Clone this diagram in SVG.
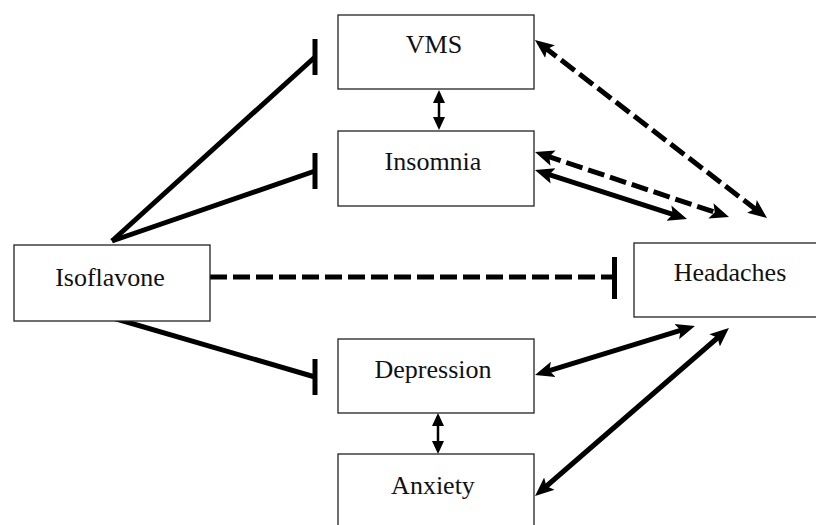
<svg xmlns="http://www.w3.org/2000/svg" width="816" height="525" viewBox="0 0 816 525">
<style>
.box{fill:#fff;stroke:#222;stroke-width:1.3}
.lbl{font-family:"Liberation Serif","Times New Roman",serif;font-size:26px;fill:#111;text-anchor:middle}
.solid{stroke:#000;stroke-width:5;fill:none}
.dash{stroke:#000;stroke-width:5;fill:none;stroke-dasharray:17 6}
.thin{stroke:#000;stroke-width:2.5;fill:none}
.bar{stroke:#000;stroke-width:5}
</style>
<defs>
<marker id="big" markerUnits="userSpaceOnUse" markerWidth="22" markerHeight="18" viewBox="0 -9 22 18" refX="9" refY="0" orient="auto-start-reverse">
<path d="M0,-8 L19,0 L0,8 L4,0 Z" fill="#000"/>
</marker>
<marker id="small" markerUnits="userSpaceOnUse" markerWidth="14" markerHeight="14" viewBox="0 -7 14 14" refX="6" refY="0" orient="auto-start-reverse">
<path d="M0,-6 L13,0 L0,6 Z" fill="#000"/>
</marker>
</defs>
<g id="connectors">
<line class="solid" x1="112" y1="241" x2="315" y2="57"/>
<line class="bar" x1="315" y1="39" x2="315" y2="75"/>
<line class="solid" x1="112" y1="241" x2="315" y2="171"/>
<line class="bar" x1="315" y1="153" x2="315" y2="189"/>
<line class="solid" x1="113" y1="318" x2="315" y2="377"/>
<line class="bar" x1="315" y1="359" x2="315" y2="395"/>
<line class="dash" x1="210" y1="277" x2="612" y2="277"/>
<line class="bar" x1="614.5" y1="257" x2="614.5" y2="299"/>
<line class="thin" x1="439" y1="97" x2="439" y2="123" marker-start="url(#small)" marker-end="url(#small)"/>
<line class="thin" x1="438" y1="420" x2="438" y2="447" marker-start="url(#small)" marker-end="url(#small)"/>
<line class="dash" x1="542.9" y1="46.1" x2="759.1" y2="211.9" marker-start="url(#big)" marker-end="url(#big)"/>
<line class="dash" x1="544.5" y1="155.2" x2="719.5" y2="213.8" marker-start="url(#big)" marker-end="url(#big)"/>
<line class="solid" x1="544.5" y1="173.1" x2="677.5" y2="215.9" marker-start="url(#big)" marker-end="url(#big)"/>
<line class="solid" x1="544.6" y1="372.1" x2="685.4" y2="328.9" marker-start="url(#big)" marker-end="url(#big)"/>
<line class="solid" x1="542.6" y1="489.5" x2="721.4" y2="334.5" marker-start="url(#big)" marker-end="url(#big)"/>
</g>
<g id="vms"><rect class="box" x="338" y="15" width="196" height="74"/><text class="lbl" x="434" y="53">VMS</text></g>
<g id="insomnia"><rect class="box" x="338" y="131" width="196" height="75"/><text class="lbl" x="433" y="170">Insomnia</text></g>
<g id="isoflavone"><rect class="box" x="14" y="245" width="196" height="76"/><text class="lbl" x="110" y="286">Isoflavone</text></g>
<g id="headaches"><rect class="box" x="634" y="243" width="200" height="74"/><text class="lbl" x="730" y="281">Headaches</text></g>
<g id="depression"><rect class="box" x="338" y="339" width="196" height="74"/><text class="lbl" x="433" y="378">Depression</text></g>
<g id="anxiety"><rect class="box" x="338" y="454" width="196" height="80"/><text class="lbl" x="433" y="494">Anxiety</text></g>
</svg>
